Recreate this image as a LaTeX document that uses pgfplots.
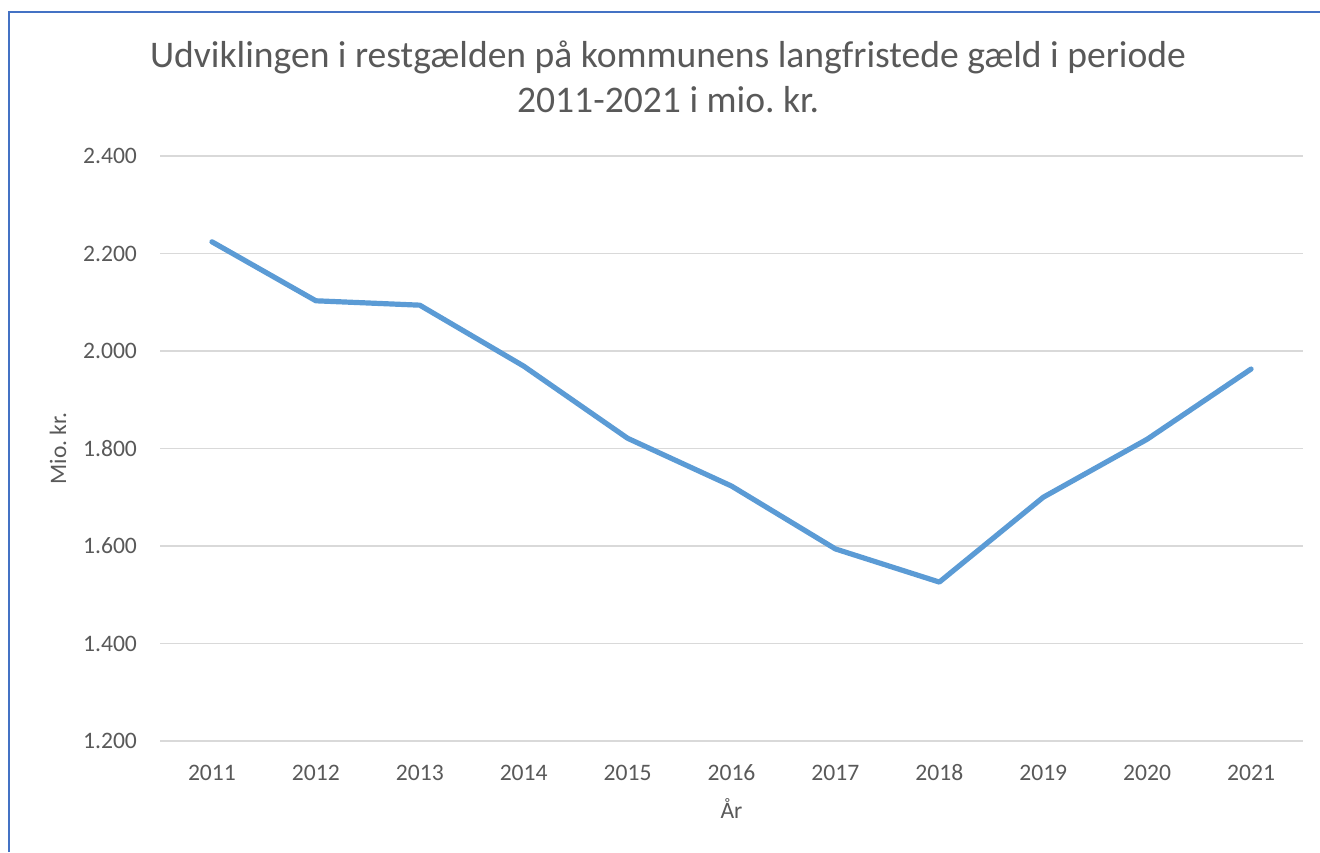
\documentclass[border=0pt]{standalone}
\usepackage{pgfplots}
\pgfplotsset{compat=1.18}
\usepackage{fontspec}
\setmainfont{Carlito}
\frenchspacing
\definecolor{txt}{HTML}{595959}
\definecolor{gridc}{HTML}{D9D9D9}
\definecolor{lineblue}{HTML}{5B9BD5}
\definecolor{frame}{HTML}{4472C4}
\begin{document}
\begin{tikzpicture}
\useasboundingbox (0pt,0pt) rectangle (660pt,426pt);
\draw[frame, line width=1.2pt] (4.5pt,0pt) -- (4.5pt,420pt) -- (660pt,420pt);
\node[txt, font=\fontsize{18.8}{22.5}\selectfont, align=center] at (334pt,387.5pt) {Udviklingen i restgælden på kommunens langfristede gæld i periode\\2011-2021 i mio. kr.};
\begin{axis}[
  at={(80pt,55.5pt)}, anchor=south west,
  scale only axis, width=571.5pt, height=292.5pt,
  xmin=-0.5, xmax=10.5, ymin=1200, ymax=2400,
  xtick={0,...,10},
  xticklabels={2011,2012,2013,2014,2015,2016,2017,2018,2019,2020,2021},
  ytick={1200,1400,...,2400},
  yticklabels={1.200,1.400,1.600,1.800,2.000,2.200,2.400},
  ymajorgrids, grid style={gridc, line width=0.75pt},
  axis line style={draw=none},
  axis x line*=bottom, axis y line*=left,
  x axis line style={gridc, line width=0.75pt},
  major tick length=0pt,
  tick label style={txt, font=\fontsize{11.8}{13}\selectfont},
  xticklabel style={text height=8pt, text depth=0pt, yshift=-8pt},
  yticklabel style={xshift=-8pt},
  xlabel={År}, ylabel={Mio. kr.},
  label style={txt, font=\fontsize{11.8}{13}\selectfont},
  xlabel style={at={(axis description cs:0.5,0)}, anchor=center, yshift=-34pt},
  ylabel style={at={(axis description cs:0,0.5)}, anchor=center, yshift=51pt},
  clip=false,
]
\addplot[lineblue, line width=2.6pt, line join=round, line cap=round] coordinates {
(0,2224) (1,2103) (2,2094) (3,1969) (4,1821) (5,1723) (6,1594) (7,1526) (8,1700) (9,1819) (10,1963)
};
\end{axis}
\end{tikzpicture}
\end{document}
